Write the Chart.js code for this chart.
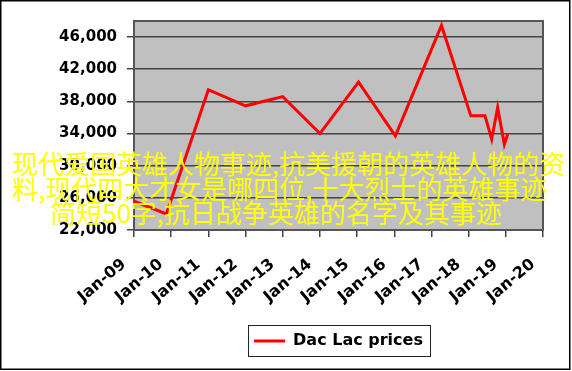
<!DOCTYPE html>
<html>
<head>
<meta charset="utf-8">
<script src="https://cdn.jsdelivr.net/npm/chart.js@4/dist/chart.umd.min.js"></script>
<style>
  body { margin: 0; background: #fff; }
  #wrap { position: relative; width: 572px; height: 371px; }
  canvas { display: block; }
  .cap {
    position: absolute;
    white-space: nowrap;
    font-family: "Noto Sans CJK SC", sans-serif;
    font-size: 26px;
    line-height: 26px;
    color: #ffff00;
  }
</style>
</head>
<body>
<div id="wrap">
  <canvas id="priceChart" width="572" height="371"></canvas>
  <div class="cap" style="left:12px; top:150px;">现代爱国英雄人物事迹,抗美援朝的英雄人物的资</div>
  <div class="cap" style="left:12px; top:175px;">料,现代四大才女是哪四位,十大烈士的英雄事迹</div>
  <div class="cap" style="left:50px; top:199px;">简短50字,抗日战争英雄的名字及其事迹</div>
</div>
<script>
// Dac Lac prices - dates as decimal years
var priceDates = [2009.0, 2009.87, 2011.0, 2012.0, 2013.0, 2014.0, 2015.04, 2016.03, 2017.27, 2018.06, 2018.44, 2018.62, 2018.78, 2018.96, 2019.05];
var priceValues = [25600, 24000, 39450, 37450, 38600, 34000, 40400, 33700, 47450, 36200, 36200, 33300, 37250, 32650, 33900];

var xTickValues = [2009, 2010, 2011, 2012, 2013, 2014, 2015, 2016, 2017, 2018, 2019, 2020];
var xTickLabels = ['Jan-09', 'Jan-10', 'Jan-11', 'Jan-12', 'Jan-13', 'Jan-14', 'Jan-15', 'Jan-16', 'Jan-17', 'Jan-18', 'Jan-19', 'Jan-20'];
var yTickValues = [22000, 26000, 30000, 34000, 38000, 42000, 46000];
var yTickLabels = ['22,000', '26,000', '30,000', '34,000', '38,000', '42,000', '46,000'];

// fonds, cadre du graphique et cadre de la légende
var framePlugin = {
    id: 'frame',
    beforeDraw: function(chart) {
        var ctx = chart.ctx, a = chart.chartArea;
        ctx.save();
        ctx.fillStyle = '#ffffff';
        ctx.fillRect(0, 0, chart.width, chart.height);
        ctx.fillStyle = '#c0c0c0';
        ctx.fillRect(a.left, a.top, a.right - a.left, a.bottom - a.top);
        ctx.strokeStyle = '#000000';
        ctx.lineWidth = 1.5;
        ctx.strokeRect(0.75, 0.75, 569, 368.5);
        ctx.restore();
    },
    beforeDatasetsDraw: function(chart) {
        var ctx = chart.ctx, a = chart.chartArea;
        ctx.save();
        ctx.strokeStyle = '#555555';
        ctx.lineWidth = 2;
        ctx.strokeRect(a.left, a.top, a.right - a.left, a.bottom - a.top);
        ctx.restore();
    },
    afterDraw: function(chart) {
        var hb = chart.legend.legendHitBoxes[0];
        if (!hb) return;
        var ctx = chart.ctx;
        ctx.save();
        ctx.strokeStyle = '#222222';
        ctx.lineWidth = 1;
        ctx.strokeRect(Math.round(hb.left - 6) + 0.5, Math.round(hb.top - 8) + 0.5,
            Math.round(hb.width + 13), Math.round(hb.height + 15));
        ctx.restore();
    }
};

var ctx = document.getElementById('priceChart').getContext('2d');
new Chart(ctx, {
    type: 'line',
    data: {
        datasets: [
            {
                label: 'Dac Lac prices',
                data: priceDates.map(function(d, i) { return { x: d, y: priceValues[i] }; }),
                borderColor: '#ff0000',
                backgroundColor: '#ff0000',
                borderWidth: 3,
                pointRadius: 0,
                tension: 0,
                fill: false
            }
        ]
    },
    options: {
        responsive: false,
        animation: false,
        layout: { padding: { top: 21, right: 29, bottom: 12, left: 0 } },
        plugins: {
            tooltip: { enabled: false },
            legend: {
                position: 'bottom',
                fullSize: false,
                labels: {
                    font: { family: 'DejaVu Sans', weight: 'bold', size: 16 },
                    color: '#000000',
                    boxWidth: 31,
                    boxHeight: 3,
                    padding: 10,
                    generateLabels: function(chart) {
                        return Chart.defaults.plugins.legend.labels.generateLabels(chart).map(function(l) {
                            l.lineWidth = 0;
                            return l;
                        });
                    }
                }
            }
        },
        scales: {
            x: {
                type: 'linear',
                min: 2009,
                max: 2020,
                afterBuildTicks: function(scale) {
                    scale.ticks = xTickValues.map(function(v) { return { value: v }; });
                },
                afterFit: function(scale) {
                    scale.height = 93;
                    scale.paddingLeft = 0;
                    scale.paddingRight = 0;
                },
                grid: {
                    drawOnChartArea: false,
                    drawTicks: true,
                    tickLength: 7,
                    color: '#444444',
                    lineWidth: 1.5
                },
                border: { display: true, color: '#444444', width: 2 },
                ticks: {
                    autoSkip: false,
                    maxRotation: 40,
                    minRotation: 40,
                    padding: 18,
                    labelOffset: -10,
                    color: '#000000',
                    font: { family: 'DejaVu Sans', weight: 'bold', size: 16 },
                    callback: function(value) { return xTickLabels[xTickValues.indexOf(value)]; }
                }
            },
            y: {
                min: 22000,
                max: 48000,
                afterBuildTicks: function(scale) {
                    scale.ticks = yTickValues.map(function(v) { return { value: v }; });
                },
                afterFit: function(scale) { scale.width = 134; },
                grid: {
                    drawOnChartArea: true,
                    drawTicks: true,
                    tickLength: 7,
                    color: '#444444',
                    lineWidth: 1.5
                },
                border: { display: true, color: '#444444', width: 2 },
                ticks: {
                    padding: 10,
                    color: '#000000',
                    font: { family: 'DejaVu Sans', weight: 'bold', size: 15 },
                    callback: function(value) { return yTickLabels[yTickValues.indexOf(value)]; }
                }
            }
        }
    },
    plugins: [framePlugin]
});
</script>
</body>
</html>
